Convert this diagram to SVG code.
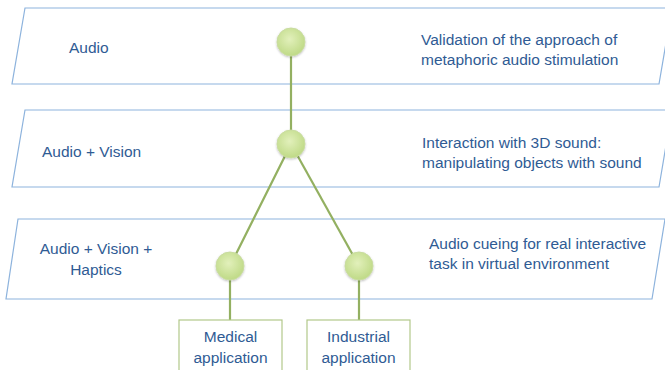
<svg xmlns="http://www.w3.org/2000/svg" width="665" height="370" viewBox="0 0 665 370">
<defs>
<radialGradient id="g" cx="0.45" cy="0.4" r="0.65">
<stop offset="0" stop-color="#e2f0bb"/>
<stop offset="1" stop-color="#bcd882"/>
</radialGradient>
<filter id="sh" x="-30%" y="-30%" width="160%" height="160%">
<feDropShadow dx="0" dy="1" stdDeviation="1.2" flood-color="#000" flood-opacity="0.25"/>
</filter>
</defs>
<style>
.band{fill:#fff;stroke:#8db3dd;stroke-width:1.2}
.t{font-family:"Liberation Sans",Arial,sans-serif;font-size:15.5px;fill:#2f5b94}
.c{fill:url(#g);stroke:#c9dca0;stroke-width:1;filter:url(#sh)}
.e{stroke:#93b061;stroke-width:2.2;fill:none}
.box{fill:#fff;stroke:#b2c88a;stroke-width:1.2}
</style>
<rect width="665" height="370" fill="#fff"/>
<g id="band1"><polygon class="band" points="25,8 672,8 659,84 12,84"/>
<text class="t" x="69" y="53">Audio</text>
<text class="t" x="421" y="45">Validation of the approach of</text>
<text class="t" x="421" y="65">metaphoric audio stimulation</text></g>
<g id="band2"><polygon class="band" points="25,110 672,110 659,187 12,187"/>
<text class="t" x="42" y="157">Audio + Vision</text>
<text class="t" x="422" y="148">Interaction with 3D sound:</text>
<text class="t" x="422" y="168">manipulating objects with sound</text></g>
<g id="band3"><polygon class="band" points="18,219 665,219 652,299 6,299"/>
<text class="t" x="96" y="254" text-anchor="middle">Audio + Vision +</text>
<text class="t" x="96" y="275" text-anchor="middle">Haptics</text>
<text class="t" x="429" y="249">Audio cueing for real interactive</text>
<text class="t" x="429" y="269">task in virtual environment</text></g>
<g id="connectors">
<line class="e" x1="291" y1="42" x2="291" y2="144"/>
<line class="e" x1="291" y1="144" x2="230" y2="266"/>
<line class="e" x1="291" y1="144" x2="359" y2="266"/>
<line class="e" x1="230" y1="266" x2="230" y2="320"/>
<line class="e" x1="359" y1="266" x2="359" y2="320"/>
</g>
<g id="n1"><circle class="c" cx="291" cy="42" r="14"/></g>
<g id="n2"><circle class="c" cx="291" cy="144" r="14"/></g>
<g id="n3"><circle class="c" cx="230" cy="266" r="14"/></g>
<g id="n4"><circle class="c" cx="359" cy="266" r="14"/></g>
<g id="medical"><rect class="box" x="179" y="320" width="103" height="60"/>
<text class="t" x="230.5" y="342" text-anchor="middle">Medical</text>
<text class="t" x="230.5" y="363" text-anchor="middle">application</text></g>
<g id="industrial"><rect class="box" x="307" y="320" width="103" height="60"/>
<text class="t" x="358.5" y="342" text-anchor="middle">Industrial</text>
<text class="t" x="358.5" y="363" text-anchor="middle">application</text></g>
</svg>
